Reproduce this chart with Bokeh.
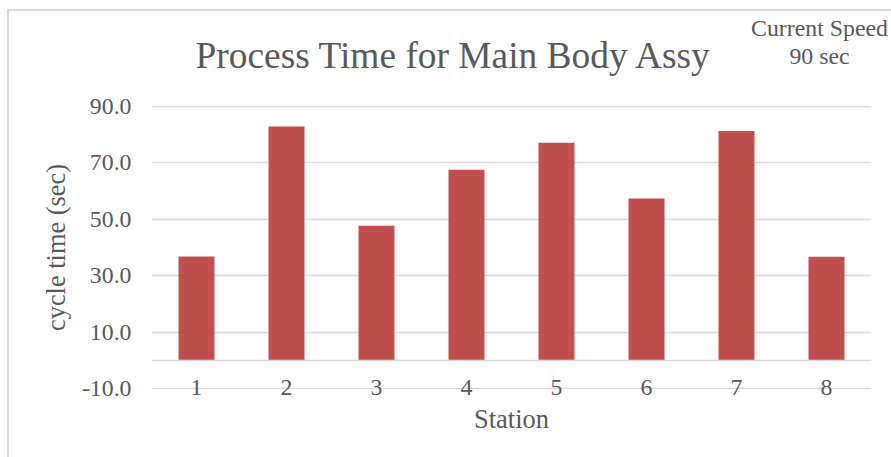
from bokeh.plotting import figure
from bokeh.models import (ColumnDataSource, FactorRange, Range1d, FixedTicker,
                          NumeralTickFormatter, Span, Label)
from bokeh.embed import file_html
from bokeh.resources import INLINE

stations = ["1", "2", "3", "4", "5", "6", "7", "8"]
cycle_time = [36.8, 82.8, 47.7, 67.5, 77.1, 57.3, 81.2, 36.7]
y_ticks = [-10, 10, 30, 50, 70, 90]
title_text = "Process Time for Main Body Assy"
speed_lines = ["Current Speed", "90 sec"]

FONT = "Liberation Serif"
GREY = "#595959"
GRID = "#d9d9d9"

src = ColumnDataSource(dict(station=stations, t=cycle_time))

bg = ("linear-gradient(#d9d9d9,#d9d9d9) 8px 9px / 883px 2px no-repeat, "
      "linear-gradient(#d9d9d9,#d9d9d9) 7px 9px / 2px 448px no-repeat, #ffffff")

p = figure(width=891, height=457, x_range=FactorRange(factors=stations, range_padding=0),
           y_range=Range1d(y_ticks[0] - 0.25, y_ticks[-1] + 0.25),
           output_backend="svg", toolbar_location=None,
           min_border_left=151, min_border_right=20, min_border_top=105, min_border_bottom=68,
           styles={"background": bg})

p.vbar(x="station", top="t", bottom=0, width=0.4, source=src,
       fill_color="#c0504d", line_color=None)

p.add_layout(Span(location=0, dimension="width", line_color=GRID, line_width=1.5))

p.outline_line_color = None
p.background_fill_color = "white"
p.border_fill_color = None

# y axis
p.yaxis.ticker = FixedTicker(ticks=y_ticks)
p.yaxis.formatter = NumeralTickFormatter(format="0.0")
p.yaxis.axis_line_color = None
p.yaxis.major_tick_line_color = None
p.yaxis.minor_tick_line_color = None
p.yaxis.major_tick_out = 0
p.yaxis.major_label_standoff = 20
p.yaxis.major_label_text_font = FONT
p.yaxis.major_label_text_font_size = "23.8px"
p.yaxis.major_label_text_color = GREY
p.yaxis.axis_label = "cycle time (sec)"
p.yaxis.axis_label_text_font = FONT
p.yaxis.axis_label_text_font_size = "26.4px"
p.yaxis.axis_label_text_font_style = "normal"
p.yaxis.axis_label_text_color = GREY
p.yaxis.axis_label_standoff = 8

# x axis
p.xaxis.axis_line_color = None
p.xaxis.major_tick_line_color = None
p.xaxis.minor_tick_line_color = None
p.xaxis.major_tick_out = 0
p.xaxis.major_label_standoff = -10
p.xaxis.major_label_text_font = FONT
p.xaxis.major_label_text_font_size = "23.8px"
p.xaxis.major_label_text_color = GREY
p.xaxis.axis_label = "Station"
p.xaxis.axis_label_text_font = FONT
p.xaxis.axis_label_text_font_size = "26.4px"
p.xaxis.axis_label_text_font_style = "normal"
p.xaxis.axis_label_text_color = GREY
p.xaxis.axis_label_standoff = 6

p.xgrid.grid_line_color = None
p.ygrid.ticker = FixedTicker(ticks=y_ticks)
p.ygrid.grid_line_color = GRID
p.ygrid.grid_line_width = 1.5

# title and speed note, placed above the frame (x in px from frame left, y in axis units)
p.add_layout(Label(x=302.5, y=107.8, x_units="screen", y_units="data", text=title_text,
                   text_align="center", text_baseline="alphabetic", text_font=FONT,
                   text_font_size="37.4px", text_color=GREY), "above")
for line, yv in zip(speed_lines, [117.7, 107.9]):
    p.add_layout(Label(x=668, y=yv, x_units="screen", y_units="data", text=line,
                       text_align="center", text_baseline="alphabetic", text_font=FONT,
                       text_font_size="23.8px", text_color=GREY), "above")

open("out.html", "w").write(file_html(p, INLINE))
